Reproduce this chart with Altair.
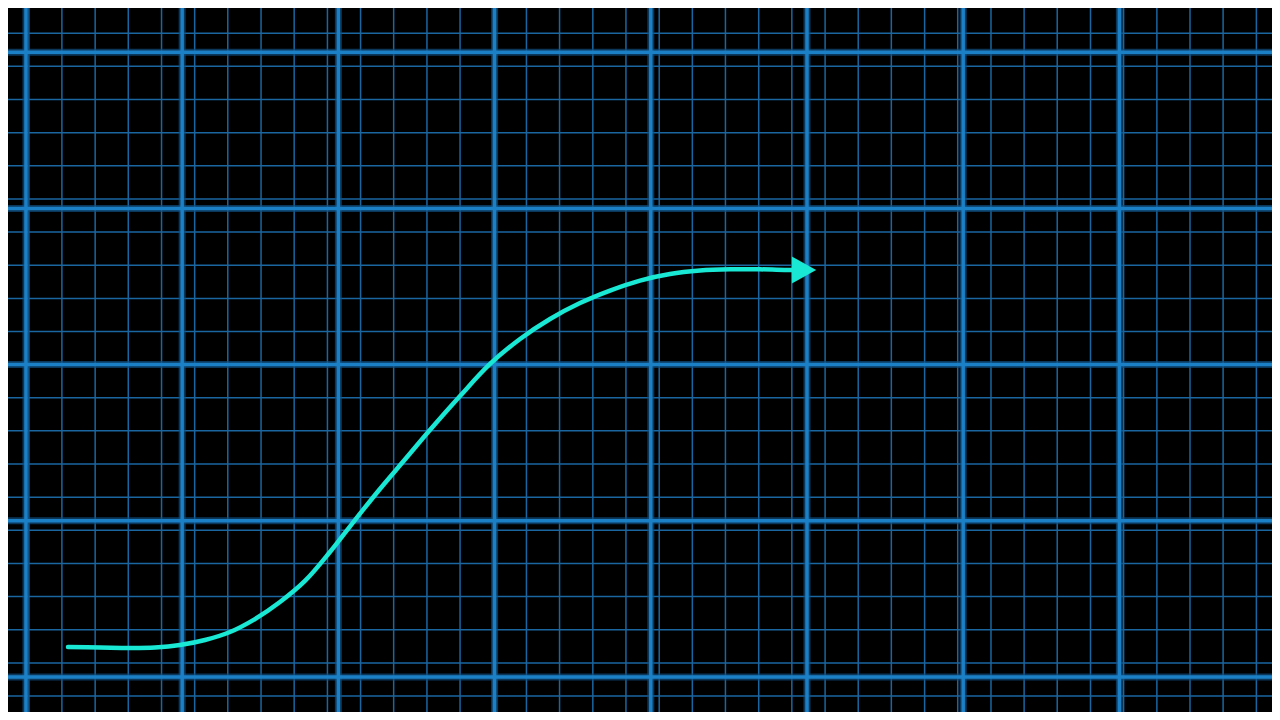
import altair as alt
import pandas as pd

# Grid positions, in "major grid square" units (origin at the lower-left major line)
major_x = [0, 1, 2, 3, 4, 5, 6, 7, 8]
major_y = [0, 1, 2, 3, 4]
minor_x = [0.018, 0.230, 0.443, 0.655, 0.868, 1.080, 1.292, 1.505, 1.717, 1.930,
           2.142, 2.354, 2.567, 2.779, 2.992, 3.204, 3.416, 3.629, 3.841, 4.054,
           4.266, 4.478, 4.691, 4.903, 5.116, 5.328, 5.540, 5.753, 5.965, 6.178,
           6.390, 6.602, 6.815, 7.027, 7.240, 7.452, 7.664, 7.877]
minor_y = [4.122, 3.910, 3.697, 3.485, 3.273, 3.061, 2.849, 2.636, 2.424, 2.212,
           2.000, 1.788, 1.576, 1.363, 1.151, 0.939, 0.727, 0.515, 0.302, 0.090,
           -0.122]

# S-shaped growth curve
curve_x = [0.269, 0.474, 0.666, 0.826, 0.986, 1.146, 1.306, 1.466, 1.626, 1.786,
           1.946, 2.106, 2.266, 2.426, 2.586, 2.779, 2.971, 3.163, 3.355, 3.547,
           3.739, 3.931, 4.123, 4.315, 4.507, 4.699, 4.891, 4.981]
curve_y = [0.192, 0.189, 0.186, 0.189, 0.205, 0.237, 0.288, 0.371, 0.480, 0.615,
           0.800, 1.005, 1.204, 1.392, 1.581, 1.799, 2.004, 2.164, 2.292, 2.394,
           2.474, 2.538, 2.580, 2.602, 2.610, 2.610, 2.606, 2.606]

X_DOMAIN = [-0.115, 7.977]
Y_DOMAIN = [-0.224, 4.283]

MINOR_COLOR = "#1a66a0"
MAJOR_COLOR = "#1c80c6"
GLOW_COLOR = "#0f4f80"
CURVE_COLOR = "#19e8d4"

xs = alt.Scale(domain=X_DOMAIN, nice=False, zero=False)
ys = alt.Scale(domain=Y_DOMAIN, nice=False, zero=False)

mx_df = pd.DataFrame({"x": minor_x})
my_df = pd.DataFrame({"y": minor_y})
Mx_df = pd.DataFrame({"x": major_x})
My_df = pd.DataFrame({"y": major_y})
curve_df = pd.DataFrame({"i": list(range(len(curve_x))), "x": curve_x, "y": curve_y})
tip_df = curve_df.tail(1)

minor_v = alt.Chart(mx_df).mark_rule(color=MINOR_COLOR, strokeWidth=1.5, clip=True).encode(
    x=alt.X("x:Q", scale=xs, axis=None))
minor_h = alt.Chart(my_df).mark_rule(color=MINOR_COLOR, strokeWidth=1.5, clip=True).encode(
    y=alt.Y("y:Q", scale=ys, axis=None))

glow_v = alt.Chart(Mx_df).mark_rule(color=GLOW_COLOR, strokeWidth=7, opacity=0.7, clip=True).encode(
    x=alt.X("x:Q", scale=xs, axis=None))
glow_h = alt.Chart(My_df).mark_rule(color=GLOW_COLOR, strokeWidth=7, opacity=0.7, clip=True).encode(
    y=alt.Y("y:Q", scale=ys, axis=None))
major_v = alt.Chart(Mx_df).mark_rule(color=MAJOR_COLOR, strokeWidth=3.5, clip=True).encode(
    x=alt.X("x:Q", scale=xs, axis=None))
major_h = alt.Chart(My_df).mark_rule(color=MAJOR_COLOR, strokeWidth=3.5, clip=True).encode(
    y=alt.Y("y:Q", scale=ys, axis=None))

curve = alt.Chart(curve_df).mark_line(
    color=CURVE_COLOR, strokeWidth=4.5, interpolate="catmull-rom", strokeCap="round"
).encode(
    x=alt.X("x:Q", scale=xs, axis=None),
    y=alt.Y("y:Q", scale=ys, axis=None),
    order="i:Q",
)

arrow = alt.Chart(tip_df).mark_point(
    shape="M-0.9,-1L0.9,0L-0.9,1Z", size=729, filled=True, color=CURVE_COLOR, opacity=1
).encode(
    x=alt.X("x:Q", scale=xs, axis=None),
    y=alt.Y("y:Q", scale=ys, axis=None),
)

chart = alt.layer(
    minor_v, minor_h, glow_v, glow_h, major_v, major_h, curve, arrow
).properties(
    width=1264, height=704, background="black", padding=0,
    autosize=alt.AutoSizeParams(type="none"),
).configure_view(stroke="transparent")

chart.save("out.html", embed_options={"renderer": "svg", "actions": False})
